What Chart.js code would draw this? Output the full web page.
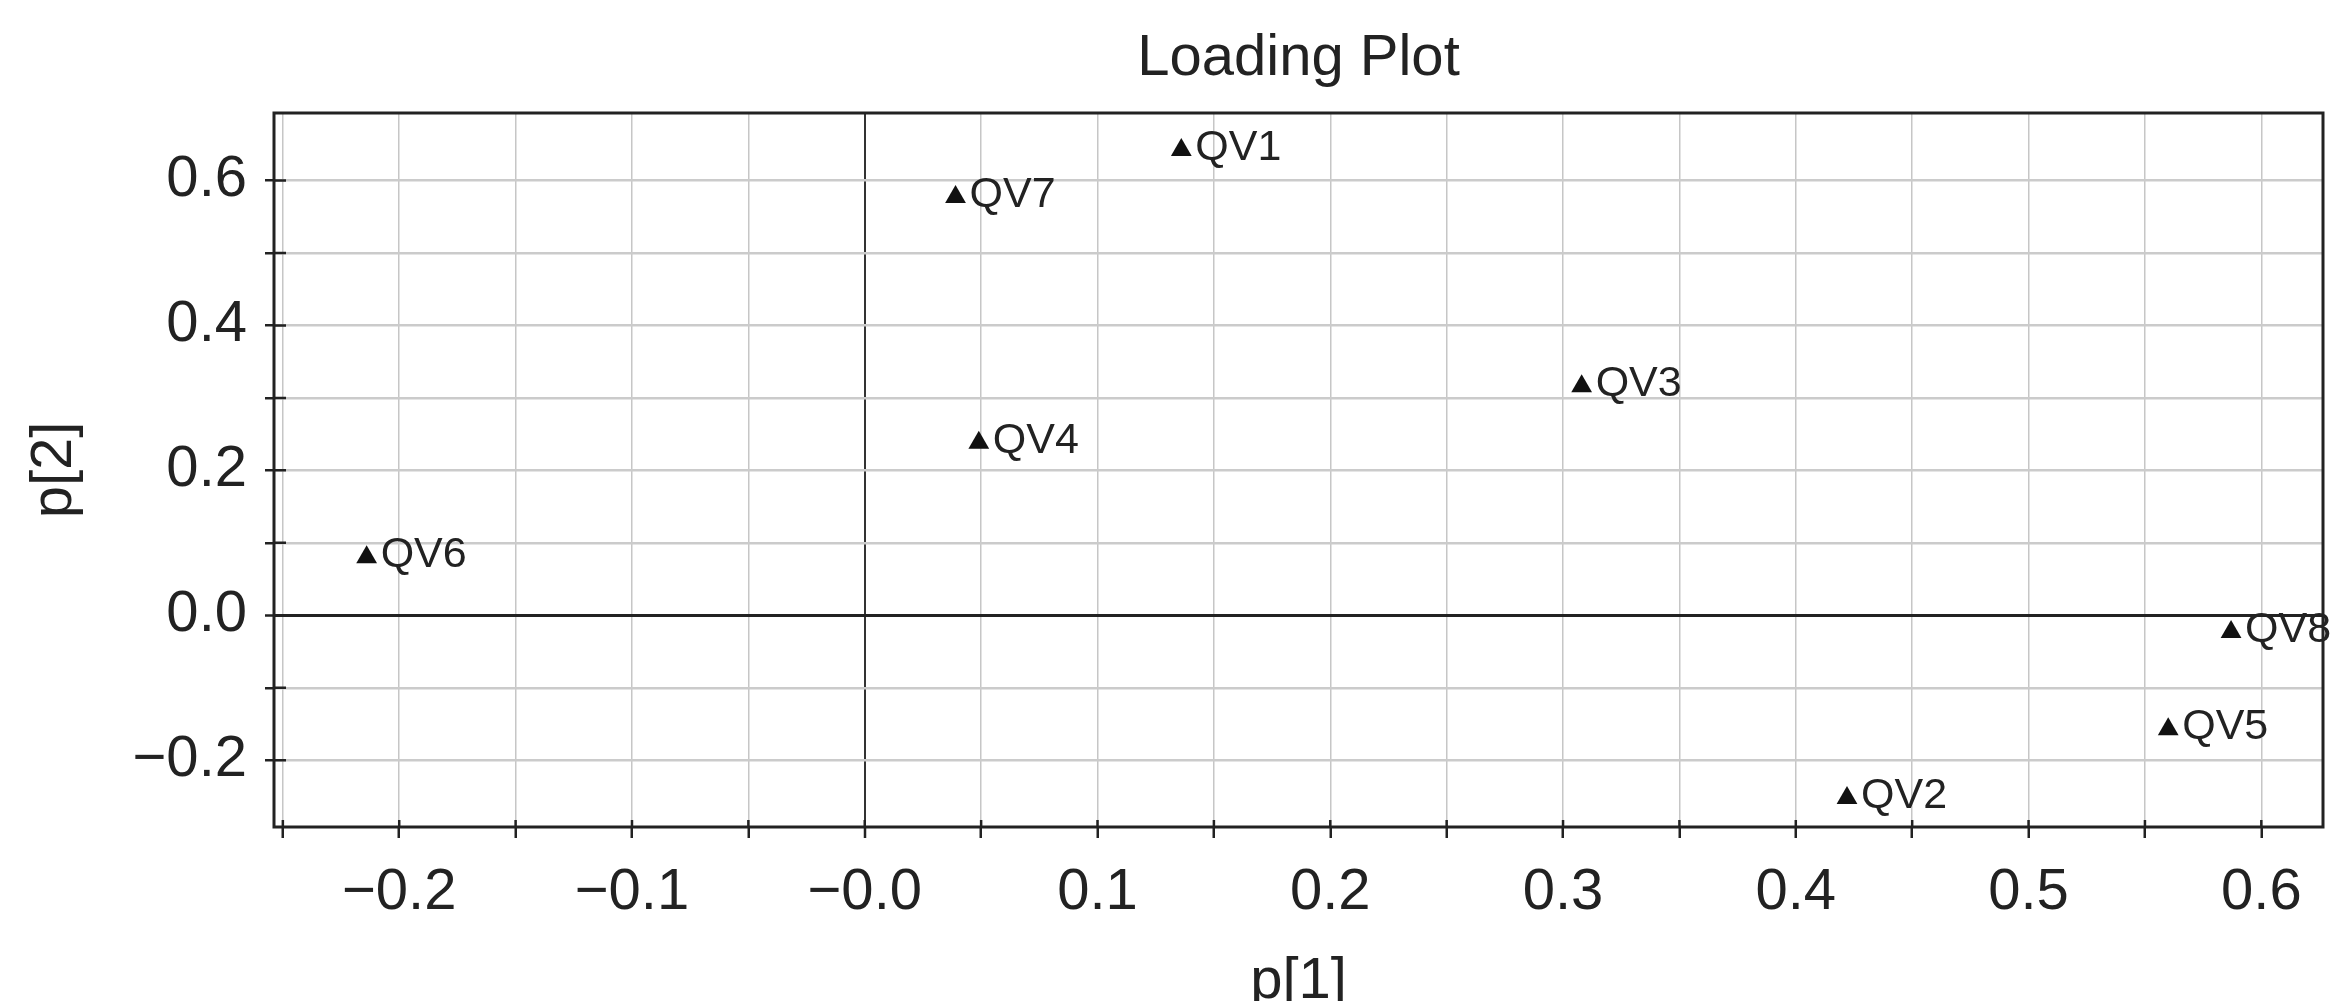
<!DOCTYPE html>
<html>
<head>
<meta charset="utf-8">
<title>Loading Plot</title>
<script src="https://cdn.jsdelivr.net/npm/chart.js@4/dist/chart.umd.min.js"></script>
<style>
  html, body { margin: 0; padding: 0; background: #fff; }
  canvas { display: block; }
</style>
</head>
<body>
<canvas id="loadings" width="2337" height="1001"></canvas>
<script>
// loadings of the eight quality variables on the first two components
const varNames = ['QV1', 'QV2', 'QV3', 'QV4', 'QV5', 'QV6', 'QV7', 'QV8'];
const p1 = [0.136, 0.422, 0.308, 0.049, 0.560, -0.214, 0.039, 0.587];
const p2 = [0.642, -0.252, 0.316, 0.238, -0.157, 0.080, 0.577, -0.023];

// axis ticks (every tick gets a mark, only some carry a label)
const xTicks = [-0.25, -0.2, -0.15, -0.1, -0.05, 0, 0.05, 0.1, 0.15, 0.2, 0.25, 0.3, 0.35, 0.4, 0.45, 0.5, 0.55, 0.6];
const xTickLabels = ['', '−0.2', '', '−0.1', '', '−0.0', '', '0.1', '', '0.2', '', '0.3', '', '0.4', '', '0.5', '', '0.6'];
const yTicks = [-0.2, -0.1, 0, 0.1, 0.2, 0.3, 0.4, 0.5, 0.6];
const yTickLabels = ['−0.2', '', '0.0', '', '0.2', '', '0.4', '', '0.6'];

const FONT = "'Liberation Sans', Arial, Helvetica, sans-serif";
const INK = '#222';

const points = p1.map((x, i) => ({ x, y: p2[i] }));

// outer frame plus the short inner part of each tick mark
const framePlugin = {
  id: 'frame',
  afterDraw(chart) {
    const { ctx, chartArea: a, scales: { x, y } } = chart;
    ctx.save();
    ctx.strokeStyle = INK;
    ctx.lineWidth = 2.5;
    ctx.beginPath();
    x.ticks.forEach(t => {
      const px = x.getPixelForValue(t.value);
      ctx.moveTo(px, a.bottom);
      ctx.lineTo(px, a.bottom - 7);
    });
    y.ticks.forEach(t => {
      const py = y.getPixelForValue(t.value);
      ctx.moveTo(a.left, py);
      ctx.lineTo(a.left + 12, py);
    });
    ctx.stroke();
    ctx.lineWidth = 3;
    ctx.strokeRect(a.left, a.top, a.right - a.left, a.bottom - a.top);
    ctx.restore();
  }
};

// variable names written to the right of each marker
const nameLabels = {
  id: 'nameLabels',
  afterDatasetsDraw(chart) {
    const { ctx } = chart;
    const meta = chart.getDatasetMeta(0);
    ctx.save();
    ctx.fillStyle = INK;
    ctx.font = '43px ' + FONT;
    ctx.textAlign = 'left';
    ctx.textBaseline = 'middle';
    meta.data.forEach((pt, i) => {
      ctx.fillText(varNames[i], pt.x + 14, pt.y - 2);
    });
    ctx.restore();
  }
};

const isZero = v => Math.abs(v) < 1e-9;

new Chart(document.getElementById('loadings'), {
  type: 'scatter',
  data: {
    datasets: [{
      data: points,
      pointStyle: 'triangle',
      pointRadius: 12,
      pointHoverRadius: 12,
      backgroundColor: '#111',
      borderWidth: 0
    }]
  },
  options: {
    responsive: false,
    devicePixelRatio: 1,
    animation: false,
    events: [],
    layout: { padding: { left: 0, right: 14, top: 0, bottom: 0 } },
    plugins: {
      legend: { display: false },
      tooltip: { enabled: false },
      title: {
        display: true,
        text: 'Loading Plot',
        fullSize: false,
        color: INK,
        font: { family: FONT, size: 58, weight: 'normal' },
        padding: { top: 24, bottom: 19.4 }
      }
    },
    scales: {
      x: {
        type: 'linear',
        min: -0.2538,
        max: 0.6265,
        afterBuildTicks: s => { s.ticks = xTicks.map(v => ({ value: v })); },
        afterFit: s => { s.height = 174; },
        border: { display: false },
        grid: {
          color: c => isZero(c.tick.value) ? '#333' : '#c6c6c6',
          lineWidth: c => isZero(c.tick.value) ? 2 : 1.5,
          tickColor: INK,
          tickWidth: 2.5,
          tickLength: 11
        },
        ticks: {
          autoSkip: false,
          maxRotation: 0,
          padding: 20,
          color: INK,
          font: { family: FONT, size: 58 },
          callback: (v, i) => xTickLabels[i]
        },
        title: {
          display: true,
          text: 'p[1]',
          color: INK,
          font: { family: FONT, size: 58 },
          padding: { top: 0, bottom: -16 }
        }
      },
      y: {
        type: 'linear',
        min: -0.292,
        max: 0.693,
        afterBuildTicks: s => { s.ticks = yTicks.map(v => ({ value: v })); },
        afterFit: s => { s.width = 274; },
        border: { display: false },
        grid: {
          color: c => isZero(c.tick.value) ? '#222' : '#cbcbcb',
          lineWidth: c => isZero(c.tick.value) ? 3 : 2.5,
          tickColor: INK,
          tickWidth: 2.5,
          tickLength: 9
        },
        ticks: {
          autoSkip: false,
          padding: 18,
          color: INK,
          font: { family: FONT, size: 58 },
          callback: (v, i) => yTickLabels[i]
        },
        title: {
          display: true,
          text: 'p[2]',
          color: INK,
          font: { family: FONT, size: 58 },
          padding: { top: 20, bottom: 0 }
        }
      }
    }
  },
  plugins: [framePlugin, nameLabels]
});
</script>
</body>
</html>
